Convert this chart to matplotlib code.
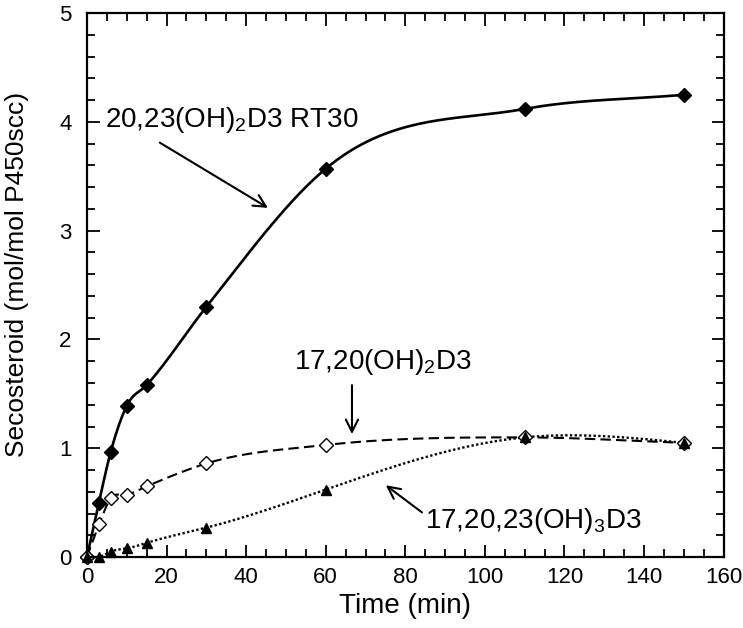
import numpy as np
import matplotlib
matplotlib.use('Agg')
import matplotlib.pyplot as plt
from matplotlib.ticker import MultipleLocator

plt.rcParams['font.family'] = ['Liberation Sans', 'DejaVu Sans']
plt.rcParams['mathtext.fontset'] = 'custom'
plt.rcParams['mathtext.rm'] = 'Liberation Sans'

# 数据
time = [0, 3, 6, 10, 15, 30, 60, 110, 150]
rt30 = [0, 0.50, 0.97, 1.39, 1.58, 2.30, 3.57, 4.12, 4.25]
d17_20 = [0, 0.30, 0.54, 0.57, 0.65, 0.86, 1.03, 1.10, 1.05]
d17_20_23 = [0, 0.0, 0.05, 0.08, 0.13, 0.27, 0.62, 1.10, 1.05]


def hermite(x, y, xs):
    """
    三次Hermite插值，切线取相邻斜率的加权平均，画平滑曲线
    """
    x = np.asarray(x, float)
    y = np.asarray(y, float)
    h = np.diff(x)
    delta = np.diff(y) / h
    n = len(x)
    m = np.zeros(n)
    for i in range(1, n - 1):
        m[i] = (h[i] * delta[i - 1] + h[i - 1] * delta[i]) / (h[i - 1] + h[i])
    m[0] = delta[0]
    m[-1] = delta[-1]
    idx = np.clip(np.searchsorted(x, xs) - 1, 0, n - 2)
    t = (xs - x[idx]) / h[idx]
    h00 = 2 * t ** 3 - 3 * t ** 2 + 1
    h10 = t ** 3 - 2 * t ** 2 + t
    h01 = -2 * t ** 3 + 3 * t ** 2
    h11 = t ** 3 - t ** 2
    return (h00 * y[idx] + h10 * h[idx] * m[idx] +
            h01 * y[idx + 1] + h11 * h[idx] * m[idx + 1])


def natural_spline(x, y, xs):
    """
    自然三次样条
    """
    x = np.asarray(x, float)
    y = np.asarray(y, float)
    n = len(x)
    h = np.diff(x)
    A = np.zeros((n, n))
    b = np.zeros(n)
    A[0, 0] = 1
    A[-1, -1] = 1
    for i in range(1, n - 1):
        A[i, i - 1] = h[i - 1]
        A[i, i] = 2 * (h[i - 1] + h[i])
        A[i, i + 1] = h[i]
        b[i] = 3 * ((y[i + 1] - y[i]) / h[i] - (y[i] - y[i - 1]) / h[i - 1])
    c = np.linalg.solve(A, b)
    idx = np.clip(np.searchsorted(x, xs) - 1, 0, n - 2)
    dx = xs - x[idx]
    hi = h[idx]
    bb = (y[idx + 1] - y[idx]) / hi - hi * (2 * c[idx] + c[idx + 1]) / 3
    d = (c[idx + 1] - c[idx]) / (3 * hi)
    return y[idx] + bb * dx + c[idx] * dx ** 2 + d * dx ** 3


def arrow(ax, tail, head):
    ax.annotate('', xy=head, xytext=tail,
                arrowprops=dict(arrowstyle='->', color='black', lw=1.5,
                                shrinkA=0, shrinkB=0, mutation_scale=22))


def main():
    fig = plt.figure(figsize=(7.43, 6.28), dpi=100)
    ax = fig.add_axes([0.117, 0.113, 0.857, 0.866])

    xs = np.linspace(0, 150, 600)
    ax.plot(xs, hermite(time, rt30, xs), color='black', lw=1.9)
    ax.plot(xs, hermite(time, d17_20, xs), color='black', lw=1.5, dashes=(5, 2.5))
    ax.plot(xs, natural_spline(time, d17_20_23, xs), color='black', lw=1.7, dashes=(1.0, 1.0))

    ax.plot(time, rt30, 'D', color='black', ms=7.5, clip_on=False)
    ax.plot(time, d17_20, 'D', mfc='white', mec='black', mew=1.0, ms=7, clip_on=False)
    ax.plot(time, d17_20_23, '^', color='black', ms=7, clip_on=False)

    ax.set_xlim(0, 160)
    ax.set_ylim(0, 5)
    ax.xaxis.set_major_locator(MultipleLocator(20))
    ax.xaxis.set_minor_locator(MultipleLocator(5))
    ax.yaxis.set_major_locator(MultipleLocator(1))
    ax.yaxis.set_minor_locator(MultipleLocator(0.2))
    ax.tick_params(which='both', direction='in', top=True, right=True, labelsize=16, width=1.3)
    ax.tick_params(which='major', length=9, pad=7)
    ax.tick_params(axis='y', which='major', pad=11)
    ax.tick_params(which='minor', length=6)
    for s in ax.spines.values():
        s.set_linewidth(1.6)

    ax.set_xlabel('Time (min)', fontsize=20, labelpad=4)
    ax.set_ylabel('Secosteroid (mol/mol P450scc)', fontsize=19, labelpad=22, y=0.52)

    ax.text(4.5, 4.02, r'20,23(OH)$_2$D3 RT30', fontsize=20, va='center', ha='left')
    arrow(ax, (18.3, 3.81), (45.5, 3.21))

    ax.text(74.4, 1.79, r'17,20(OH)$_2$D3', fontsize=20, va='center', ha='center')
    arrow(ax, (66.6, 1.58), (66.6, 1.13))

    ax.text(85, 0.33, r'17,20,23(OH)$_3$D3', fontsize=20, va='center', ha='left')
    arrow(ax, (84.2, 0.41), (75.1, 0.66))

    fig.savefig('out.png', dpi=100)


if __name__ == "__main__":
    main()
